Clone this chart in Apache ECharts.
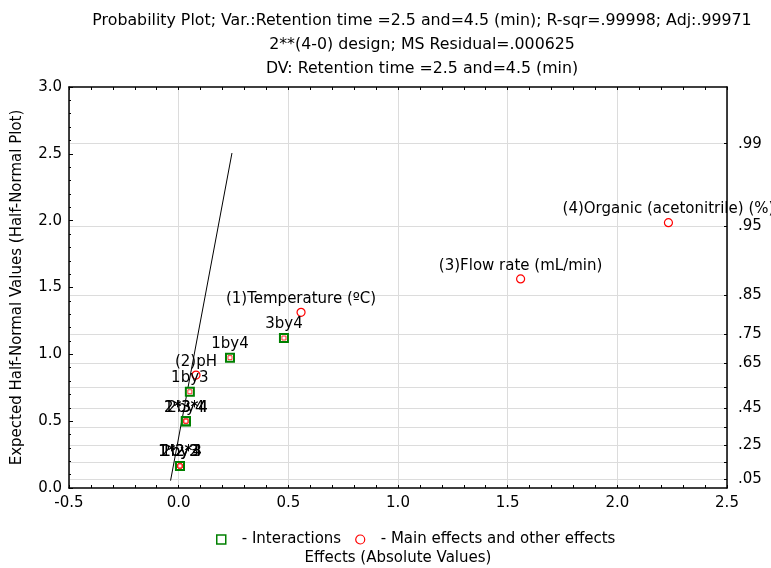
<!DOCTYPE html>
<html><head><meta charset="utf-8">
<script src="https://cdn.jsdelivr.net/npm/echarts@6/dist/echarts.min.js"></script>
<style>html,body{margin:0;padding:0;background:#fff}#c{width:771px;height:568px}</style>
</head><body><div id="c"></div>
<script>
const titleLines = [
  'Probability Plot; Var.:Retention time =2.5 and=4.5 (min); R-sqr=.99998; Adj:.99971',
  '2**(4-0) design; MS Residual=.000625',
  'DV: Retention time =2.5 and=4.5 (min)'
];
const xName = 'Effects (Absolute Values)';
const yName = 'Expected Half-Normal Values (Half-Normal Plot)';

// Interactions (green squares)
const interLabels = ['1by2', '2by3', '1*2*3', '1*2*4', '2by4', '1*3*4', '2*3*4', '1by3', '1by4', '3by4'];
const interX = [0.006, 0.006, 0.006, 0.006, 0.033, 0.033, 0.033, 0.051, 0.234, 0.480];
const interY = [0.165, 0.165, 0.165, 0.165, 0.500, 0.500, 0.500, 0.720, 0.975, 1.122];

// Main effects (red circles)
const mainLabels = ['(2)pH', '(1)Temperature (ºC)', '(3)Flow rate (mL/min)', '(4)Organic (acetonitrile) (%)'];
const mainX = [0.079, 0.558, 1.559, 2.233];
const mainY = [0.845, 1.314, 1.564, 1.985];

// Reference line
const lineX = [-0.037, 0.243];
const lineY = [0.055, 2.506];

// Right probability axis
const probLabels = ['.05', '.25', '.45', '.65', '.75', '.85', '.95', '.99'];
const probLabelZ = [0.063, 0.319, 0.598, 0.935, 1.150, 1.440, 1.960, 2.576];
const probGridZ = [0.063, 0.189, 0.319, 0.454, 0.598, 0.755, 0.935, 1.150, 1.440, 1.960, 2.576];

const legendNames = ['Interactions', 'Main effects and other effects'];

const FONT = 'DejaVu Sans';
const chart = echarts.init(document.getElementById('c'), null, {renderer: 'canvas'});

const interData = interX.map((x, i) => ({name: interLabels[i], value: [x, interY[i]]}));
const mainData = mainX.map((x, i) => ({name: mainLabels[i], value: [x, mainY[i]]}));
const lineData = lineX.map((x, i) => [x, lineY[i]]);

const labelCfg = {
  show: true, position: 'top', distance: 1, formatter: '{b}',
  fontFamily: FONT, fontSize: 15, color: '#000'
};

chart.setOption({
  animation: false,
  backgroundColor: '#fff',
  textStyle: {fontFamily: FONT, color: '#000'},
  title: {
    text: titleLines.join('\n'),
    left: 417, top: 4, textAlign: 'center',
    textStyle: {fontFamily: FONT, fontSize: 15.8, fontWeight: 'normal', color: '#000', lineHeight: 24}
  },
  legend: {
    left: 211, top: 527,
    itemWidth: 9, itemHeight: 9, itemGap: 14,
    formatter: n => '- ' + n,
    textStyle: {fontFamily: FONT, fontSize: 15, color: '#000', padding: [0, 0, 0, 11]},
    data: [
      {name: legendNames[0], icon: 'rect', itemStyle: {color: '#fff', borderColor: '#008000', borderWidth: 1.5}},
      {name: legendNames[1], icon: 'circle', itemStyle: {color: '#fff', borderColor: '#ff0000', borderWidth: 1.2}}
    ]
  },
  grid: {left: 69, right: 44, top: 87, bottom: 80, outerBoundsMode: 'none', containLabel: false},
  xAxis: [{
    type: 'value', min: -0.5, max: 2.5, interval: 0.5, position: 'bottom',
    name: xName, nameLocation: 'middle', nameGap: 63,
    nameTextStyle: {fontFamily: FONT, fontSize: 15, color: '#000'},
    axisLine: {show: true, onZero: false, lineStyle: {color: '#000', width: 1.5}},
    axisTick: {show: true, inside: true, length: 3, lineStyle: {color: '#000'}},
    minorTick: {show: true, splitNumber: 5, length: 3, lineStyle: {color: '#000'}},
    axisLabel: {formatter: v => v.toFixed(1), fontFamily: FONT, fontSize: 15, color: '#000', margin: 8},
    splitLine: {show: true, lineStyle: {color: '#dcdcdc', width: 1}}
  }, {
    type: 'value', min: -0.5, max: 2.5, interval: 0.5, position: 'top',
    axisLine: {show: true, onZero: false, lineStyle: {color: '#000', width: 1.5}},
    axisTick: {show: true, inside: true, length: 3, lineStyle: {color: '#000'}},
    minorTick: {show: true, splitNumber: 5, length: 3, lineStyle: {color: '#000'}},
    axisLabel: {show: false},
    splitLine: {show: false}
  }],
  yAxis: [{
    type: 'value', min: 0, max: 3, interval: 0.5, position: 'left',
    name: yName, nameLocation: 'middle', nameGap: 44, nameRotate: 90,
    nameTextStyle: {fontFamily: FONT, fontSize: 15, color: '#000'},
    axisLine: {show: true, onZero: false, lineStyle: {color: '#000', width: 1.5}},
    axisTick: {show: true, inside: true, length: 4, lineStyle: {color: '#000'}},
    minorTick: {show: true, splitNumber: 5, length: 2, lineStyle: {color: '#000'}},
    axisLabel: {formatter: v => v.toFixed(1), fontFamily: FONT, fontSize: 15, color: '#000', margin: 7},
    splitLine: {show: false}
  }, {
    type: 'value', min: 0, max: 3, position: 'right',
    axisLine: {show: true, onZero: false, lineStyle: {color: '#000', width: 1.5}},
    axisTick: {show: true, inside: true, length: 3, customValues: probGridZ, lineStyle: {color: '#000'}},
    axisLabel: {
      customValues: probLabelZ, fontFamily: FONT, fontSize: 15, color: '#000', margin: 11,
      formatter: v => {
        const i = probLabelZ.findIndex(z => Math.abs(z - v) < 1e-6);
        return i >= 0 ? probLabels[i] : '';
      }
    },
    splitLine: {show: true, lineStyle: {color: '#dcdcdc', width: 1}}
  }],
  series: [{
    type: 'line', name: 'ref', data: lineData, xAxisIndex: 0, yAxisIndex: 0,
    symbol: 'none', silent: true,
    lineStyle: {color: '#000', width: 1}
  }, {
    type: 'scatter', name: legendNames[0], data: interData,
    symbol: 'rect', symbolSize: 8,
    itemStyle: {color: '#fff', borderColor: '#008000', borderWidth: 2, opacity: 1},
    label: labelCfg, z: 3
  }, {
    type: 'scatter', name: 'interInner', data: interData,
    symbol: 'rect', symbolSize: 4, silent: true,
    itemStyle: {color: '#fff', borderColor: '#ff0000', borderWidth: 1},
    label: {show: false}, z: 4
  }, {
    type: 'scatter', name: legendNames[1], data: mainData,
    symbol: 'circle', symbolSize: 8,
    itemStyle: {color: '#fff', borderColor: '#ff0000', borderWidth: 1.2, opacity: 1},
    label: labelCfg, z: 3
  }]
});
</script>
</body></html>
